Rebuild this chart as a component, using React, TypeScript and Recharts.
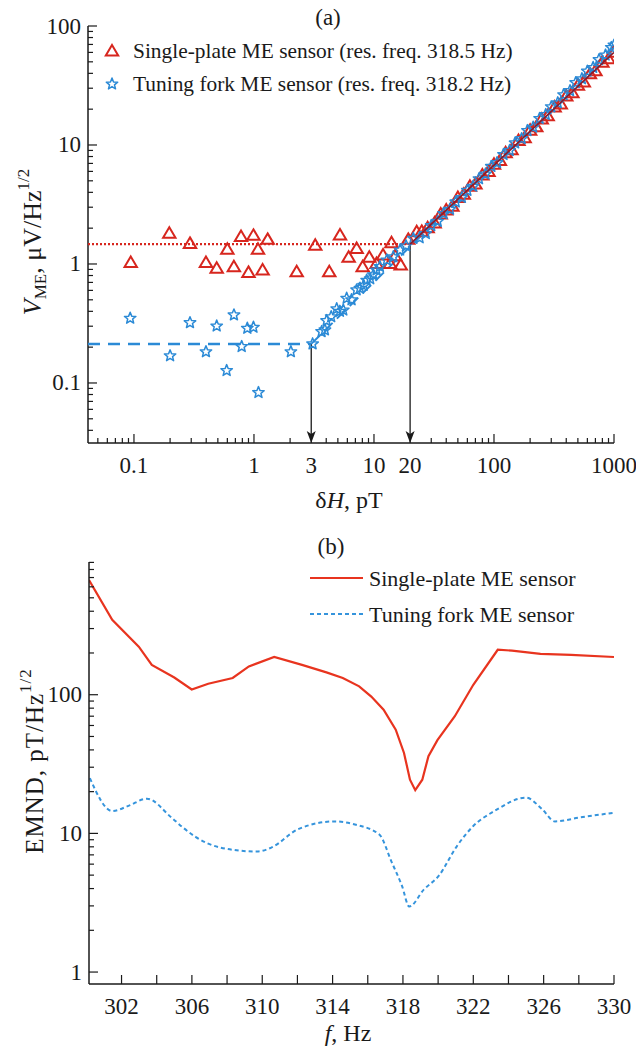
import { Line, LineChart, ReferenceLine, Scatter, ScatterChart, XAxis, YAxis } from "recharts";

const RED = "#d7261e";
const BLUE = "#2b8ad6";
const LINE_RED = "#e8341f";
const LINE_BLUE = "#3594dc";
const INK = "#1a1a1a";
const FONT = '"Liberation Serif", "Times New Roman", serif';

// ---- panel (a): V_ME vs dH, log-log ----
const X_MIN_A = 0.0414;
const X_MAX_A = 1000;
const Y_MIN_A = 0.0313;
const Y_MAX_A = 100;

const plateH = [
  0.094, 0.197, 0.293, 0.398, 0.489, 0.6, 0.68, 0.78, 0.9, 0.99, 1.08, 1.18, 1.3, 2.27, 3.24, 4.24, 5.21, 6.15,
  7.17, 8.05, 9.14, 10.5, 11.9, 13.6, 14.0, 15.0, 16.7, 19.3, 22.7, 25, 28, 32, 36, 40, 45, 50, 56, 63, 70, 80, 90,
  100, 112, 125, 140, 160, 180, 200, 225, 250, 280, 320, 360, 400, 450, 500, 560, 630, 700, 800, 900, 1000,
];
const plateV = [
  1.03, 1.81, 1.49, 1.03, 0.92, 1.33, 0.95, 1.7, 0.85, 1.74, 1.33, 0.89, 1.61, 0.86, 1.44, 0.86, 1.75, 1.14, 1.35,
  0.95, 1.14, 1.01, 1.19, 1.01, 1.51, 1.17, 0.98, 1.61, 1.87, 1.88, 2.02, 2.21, 2.63, 2.84, 3.05, 3.62, 3.85, 4.5,
  4.7, 5.6, 6.0, 6.9, 7.4, 8.6, 9.1, 10.9, 11.5, 13.3, 14.2, 16.5, 17.6, 20.9, 22.1, 25.8, 27.5, 31.8, 33.9, 39.6,
  42.0, 49.5, 53.0, 60.2,
];

const forkH = [
  0.093, 0.2, 0.293, 0.398, 0.489, 0.592, 0.681, 0.79, 0.88, 0.99, 1.09, 2.03, 3.08, 3.66, 3.9, 4.03, 4.4, 4.89,
  5.2, 5.55, 5.92, 6.5, 7.17, 7.64, 8.2, 8.69, 9.3, 9.87, 10.5, 11.2, 12.8, 14.5, 16.5, 18.5, 21.3, 24, 27, 30, 34,
  38, 43, 48, 54, 60, 67, 75, 85, 95, 106, 120, 135, 150, 170, 190, 212, 240, 270, 300, 340, 380, 430, 480, 540,
  600, 670, 750, 850, 950, 1000,
];
const forkV = [
  0.35, 0.169, 0.321, 0.183, 0.301, 0.127, 0.373, 0.202, 0.288, 0.294, 0.083, 0.183, 0.213, 0.27, 0.279, 0.334,
  0.36, 0.42, 0.4, 0.41, 0.515, 0.5, 0.605, 0.625, 0.66, 0.73, 0.75, 0.81, 0.89, 0.95, 1.08, 1.15, 1.31, 1.42, 1.64,
  1.66, 1.8, 2.1, 2.28, 2.65, 2.88, 3.32, 3.62, 4.15, 4.5, 5.2, 5.7, 6.6, 7.1, 8.3, 9.0, 10.4, 11.3, 13.2, 14.1,
  16.7, 18.0, 20.9, 22.6, 26.4, 28.6, 33.4, 36.0, 41.7, 44.8, 52.1, 56.9, 65.8, 69.0,
];

// fitted noise floor + linear response
const plateFitH = [X_MIN_A, 20];
const plateFitV = [1.47, 1.47];
const plateSlopeH = [20, 1000];
const plateSlopeV = [1.47, 60];
const forkFitH = [X_MIN_A, 3];
const forkFitV = [0.213, 0.213];
const forkSlopeH = [3, 1000];
const forkSlopeV = [0.213, 68];

const xTicksA = [
  0.05, 0.06, 0.07, 0.08, 0.09, 0.1, 0.2, 0.3, 0.4, 0.5, 0.6, 0.7, 0.8, 0.9, 1, 2, 3, 4, 5, 6, 7, 8, 9, 10, 20, 30,
  40, 50, 60, 70, 80, 90, 100, 200, 300, 400, 500, 600, 700, 800, 900, 1000,
];
const xLabelsA = [0.1, 1, 3, 10, 20, 100, 1000];
const yTicksA = [
  0.04, 0.05, 0.06, 0.07, 0.08, 0.09, 0.1, 0.2, 0.3, 0.4, 0.5, 0.6, 0.7, 0.8, 0.9, 1, 2, 3, 4, 5, 6, 7, 8, 9, 10, 20,
  30, 40, 50, 60, 70, 80, 90, 100,
];
const yLabelsA = [0.1, 1, 10, 100];
const decades = [0.1, 1, 10, 100, 1000];

// ---- panel (b): EMND vs f ----
const plateF = [
  300.15, 301.47, 302.98, 303.72, 305.0, 305.99, 306.93, 308.32, 309.24, 310.68, 312.26, 313.65, 314.58, 315.51,
  316.2, 316.9, 317.59, 318.06, 318.4, 318.7, 319.1, 319.45, 319.96, 320.95, 322.0, 323.39, 324.2, 325.82, 327.56,
  330,
];
const plateEmnd = [
  672, 347, 222, 164, 133, 109, 120, 132, 160, 187, 164, 145, 132, 115, 97, 78, 56, 38, 24.4, 20.5, 24.4, 36, 47,
  70, 118, 211, 208, 197, 194, 187,
];
const forkF = [
  300.2, 301.47, 302.4, 303.44, 304.84, 305.5, 306.23, 307.62, 309.7, 310.52, 312.03, 314.11, 315.27, 316.66,
  317.36, 317.94, 318.36, 319.2, 320.03, 321.07, 322.0, 323.2, 325.0, 325.9, 326.64, 328.03, 330,
];
const forkEmnd = [
  25, 14.5, 15.8, 17.8, 13.0, 11.0, 9.4, 7.9, 7.4, 7.9, 10.7, 12.2, 11.6, 9.8, 6.2, 4.2, 2.97, 3.95, 4.93, 8.1,
  11.3, 14.5, 18.1, 15.0, 12.2, 13.0, 14.1,
];

const fTicks = [302, 304, 306, 308, 310, 312, 314, 316, 318, 320, 322, 324, 326, 328, 330];
const fLabels = [302, 306, 310, 314, 318, 322, 326, 330];
const yTicksB = [1, 2, 3, 4, 5, 6, 7, 8, 9, 10, 20, 30, 40, 50, 60, 70, 80, 90, 100, 200, 300, 400, 500, 600, 700, 800, 900];
const yLabelsB = [1, 10, 100];

const toPoints = (xs: number[], ys: number[]) => xs.map((x, i) => ({ x, y: ys[i] }));

const tickText = { fontFamily: FONT, fontSize: 23, fill: INK };

const LeftTick = ({ x, y, payload, labels, majors }: any) => {
  const v = payload.value;
  const len = majors.includes(v) ? 9 : 5;
  return (
    <g>
      <line stroke={INK} strokeWidth={1.2} x1={x} x2={x + len} y1={y} y2={y} />
      {labels.includes(v) && (
        <text {...tickText} dominantBaseline="central" textAnchor="end" x={x - 7} y={y}>
          {v}
        </text>
      )}
    </g>
  );
};

const BottomTick = ({ x, y, payload, labels, majors, labelGap }: any) => {
  const v = payload.value;
  const len = majors.includes(v) ? 9 : 5;
  return (
    <g>
      <line stroke={INK} strokeWidth={1.2} x1={x} x2={x} y1={y} y2={y - len} />
      {labels.includes(v) && (
        <text {...tickText} dominantBaseline="central" textAnchor="middle" x={x} y={y + labelGap}>
          {v}
        </text>
      )}
    </g>
  );
};

const Triangle = ({ cx, cy, color = RED }: any) => (
  <path
    d={`M${cx},${cy - 6} L${cx + 6.2},${cy + 4.5} L${cx - 6.2},${cy + 4.5} Z`}
    fill="none"
    stroke={color}
    strokeWidth={2}
  />
);

const starPath = (cx: number, cy: number, outer: number, inner: number) => {
  const pts: string[] = [];
  for (let k = 0; k < 10; k++) {
    const r = k % 2 === 0 ? outer : inner;
    const a = -Math.PI / 2 + (k * Math.PI) / 5;
    pts.push(`${(cx + r * Math.cos(a)).toFixed(2)},${(cy + r * Math.sin(a)).toFixed(2)}`);
  }
  return `M${pts.join(" L")} Z`;
};

const Star = ({ cx, cy }: any) => (
  <path d={starPath(cx, cy, 6, 2.6)} fill="none" stroke={BLUE} strokeWidth={1.5} strokeLinejoin="round" />
);

const NoDot = () => <g />;

const ArrowDown = ({ x1, y1, x2, y2 }: any) => (
  <g>
    <line stroke={INK} strokeWidth={1.3} x1={x1} x2={x2} y1={y1} y2={y2 - 8} />
    <path d={`M${x2},${y2} L${x2 - 4.5},${y2 - 12} L${x2},${y2 - 9} L${x2 + 4.5},${y2 - 12} Z`} fill={INK} />
  </g>
);

const centered = (left: number, top: number): React.CSSProperties => ({
  position: "absolute",
  left,
  top,
  transform: "translate(-50%, -50%)",
  whiteSpace: "nowrap",
  lineHeight: 1,
});

const legendText: React.CSSProperties = {
  position: "absolute",
  transform: "translateY(-50%)",
  whiteSpace: "nowrap",
  lineHeight: 1,
  fontSize: 22,
};

export default function App() {
  const axisLine = { stroke: INK, strokeWidth: 1.5 };
  return (
    <div style={{ position: "relative", width: 636, height: 1050, background: "#fff", fontFamily: FONT, color: INK }}>
      <style>{"body{margin:0}"}</style>

      <div style={{ position: "absolute", left: 0, top: 0 }}>
        <ScatterChart height={520} margin={{ top: 26, right: 22, bottom: 0, left: 0 }} width={636}>
          <XAxis
            allowDataOverflow
            axisLine={axisLine}
            dataKey="x"
            domain={[X_MIN_A, X_MAX_A]}
            height={77}
            interval={0}
            scale="log"
            tick={(p: any) => <BottomTick {...p} labelGap={22} labels={xLabelsA} majors={decades} />}
            tickLine={false}
            tickMargin={0}
            tickSize={0}
            ticks={xTicksA}
            type="number"
          />
          <YAxis
            allowDataOverflow
            axisLine={axisLine}
            dataKey="y"
            domain={[Y_MIN_A, Y_MAX_A]}
            interval={0}
            scale="log"
            tick={(p: any) => <LeftTick {...p} labels={yLabelsA} majors={decades} />}
            tickLine={false}
            tickMargin={0}
            tickSize={0}
            ticks={yTicksA}
            type="number"
            width={88}
          />
          <Scatter
            data={toPoints(plateFitH, plateFitV)}
            isAnimationActive={false}
            line={{ stroke: RED, strokeWidth: 2.2, strokeDasharray: "2 2" }}
            shape={NoDot}
          />
          <Scatter
            data={toPoints(forkFitH, forkFitV)}
            isAnimationActive={false}
            line={{ stroke: BLUE, strokeWidth: 2.5, strokeDasharray: "12 8" }}
            shape={NoDot}
          />
          <Scatter
            data={toPoints(forkSlopeH, forkSlopeV)}
            isAnimationActive={false}
            line={{ stroke: BLUE, strokeWidth: 2, strokeDasharray: "12 6" }}
            shape={NoDot}
          />
          <Scatter data={toPoints(plateH, plateV)} isAnimationActive={false} shape={Triangle} />
          <Scatter data={toPoints(forkH, forkV)} isAnimationActive={false} shape={Star} />
          <Scatter
            data={toPoints(plateSlopeH, plateSlopeV)}
            isAnimationActive={false}
            line={{ stroke: "#8a1a2a", strokeWidth: 1.6 }}
            shape={NoDot}
          />
          <ReferenceLine
            ifOverflow="visible"
            segment={[
              { x: 3, y: 0.213 },
              { x: 3, y: Y_MIN_A },
            ]}
            shape={ArrowDown}
          />
          <ReferenceLine
            ifOverflow="visible"
            segment={[
              { x: 20, y: 1.47 },
              { x: 20, y: Y_MIN_A },
            ]}
            shape={ArrowDown}
          />
        </ScatterChart>
      </div>

      <div style={{ position: "absolute", left: 0, top: 530 }}>
        <LineChart height={520} margin={{ top: 32, right: 22, bottom: 0, left: 0 }} width={636}>
          <XAxis
            allowDataOverflow
            axisLine={axisLine}
            dataKey="f"
            domain={[300.15, 330]}
            height={66}
            interval={0}
            tick={(p: any) => <BottomTick {...p} labelGap={22} labels={fLabels} majors={fTicks} />}
            tickLine={false}
            tickMargin={0}
            tickSize={0}
            ticks={fTicks}
            type="number"
          />
          <YAxis
            allowDataOverflow
            axisLine={axisLine}
            domain={[0.82, 906]}
            interval={0}
            scale="log"
            tick={(p: any) => <LeftTick {...p} labels={yLabelsB} majors={yLabelsB} />}
            tickLine={false}
            tickMargin={0}
            tickSize={0}
            ticks={yTicksB}
            type="number"
            width={89}
          />
          <Line
            data={plateF.map((f, i) => ({ f, plate: plateEmnd[i] }))}
            dataKey="plate"
            dot={false}
            isAnimationActive={false}
            stroke={LINE_RED}
            strokeWidth={2.2}
            type="linear"
          />
          <Line
            data={forkF.map((f, i) => ({ f, fork: forkEmnd[i] }))}
            dataKey="fork"
            dot={false}
            isAnimationActive={false}
            stroke={LINE_BLUE}
            strokeDasharray="4 3"
            strokeWidth={2}
            type="monotone"
          />
        </LineChart>
      </div>

      {/* panel labels and axis titles */}
      <div style={{ ...centered(328, 17), fontSize: 23 }}>(a)</div>
      <div style={{ ...centered(331, 546), fontSize: 23 }}>(b)</div>
      <div style={{ ...centered(349, 500), fontSize: 24 }}>
        δ<i>H</i>, pT
      </div>
      <div style={{ ...centered(348, 1033), fontSize: 24 }}>
        <i>f</i>, Hz
      </div>
      <div style={{ ...centered(32, 242), fontSize: 26, transform: "translate(-50%, -50%) rotate(-90deg)" }}>
        <i>V</i>
        <span style={{ fontSize: 17, verticalAlign: -5 }}>ME</span>, μV/Hz
        <span style={{ fontSize: 17, verticalAlign: 12 }}>1/2</span>
      </div>
      <div
        style={{
          ...centered(32, 761),
          fontSize: 25,
          letterSpacing: 1,
          transform: "translate(-50%, -50%) rotate(-90deg)",
        }}
      >
        EMND, pT/Hz<span style={{ fontSize: 17, verticalAlign: 12 }}>1/2</span>
      </div>

      {/* legend (a) */}
      <svg height={100} style={{ position: "absolute", left: 0, top: 0 }} width={130}>
        <Triangle cx={112} cy={51} />
        <Star cx={112} cy={84} />
      </svg>
      <div style={{ ...legendText, left: 133, top: 52, fontSize: 21.4 }}>
        Single-plate ME sensor (res. freq. 318.5 Hz)
      </div>
      <div style={{ ...legendText, left: 133, top: 85, fontSize: 21.4 }}>
        Tuning fork ME sensor (res. freq. 318.2 Hz)
      </div>

      {/* legend (b) */}
      <svg height={60} style={{ position: "absolute", left: 300, top: 560 }} width={70}>
        <line stroke={LINE_RED} strokeWidth={2.2} x1={10} x2={63} y1={18} y2={18} />
        <line stroke={LINE_BLUE} strokeDasharray="4 3" strokeWidth={2} x1={10} x2={63} y1={54} y2={54} />
      </svg>
      <div style={{ ...legendText, left: 369, top: 579 }}>Single-plate ME sensor</div>
      <div style={{ ...legendText, left: 369, top: 615 }}>Tuning fork ME sensor</div>
    </div>
  );
}
